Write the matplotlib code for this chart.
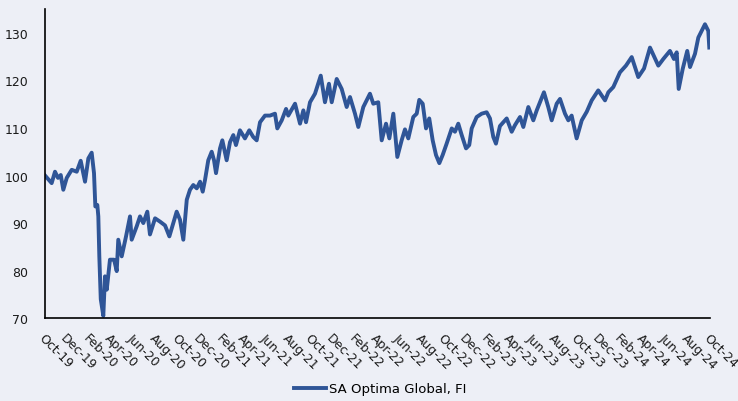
import numpy as np
import matplotlib
matplotlib.use('Agg')
import matplotlib.pyplot as plt

# months since Oct-19
months = [0.00, 0.60, 0.90, 1.17, 1.42, 1.65, 1.96, 2.41, 2.86, 3.22, 3.61, 3.91, 4.21, 4.42,
          4.54, 4.72, 4.81, 4.90, 5.03, 5.26, 5.41, 5.57, 5.86, 6.23, 6.47, 6.61, 6.92, 7.31,
          7.67, 7.82, 8.27, 8.57, 8.87, 9.23, 9.47, 9.93, 10.38, 10.83, 11.22, 11.88, 12.18,
          12.48, 12.79, 13.08, 13.38, 13.69, 13.99, 14.23, 14.44, 14.73, 15.04, 15.25, 15.43,
          15.79, 16.00, 16.39, 16.69, 16.99, 17.23, 17.59, 18.04, 18.43, 18.79, 19.10, 19.40,
          19.85, 20.30, 20.75, 20.96, 21.36, 21.75, 21.95, 22.56, 23.01, 23.31, 23.55, 23.91,
          24.36, 24.88, 25.26, 25.62, 25.87, 26.32, 26.77, 27.22, 27.52, 27.97, 28.27, 28.72,
          29.32, 29.62, 30.07, 30.38, 30.77, 31.07, 31.43, 31.79, 32.18, 32.48, 32.78, 33.23,
          33.54, 33.77, 34.08, 34.38, 34.67, 34.98, 35.28, 35.58, 35.88, 36.24, 36.70, 36.99,
          37.29, 37.60, 37.99, 38.28, 38.50, 38.95, 39.40, 39.85, 40.15, 40.45, 40.69, 41.05,
          41.66, 42.11, 42.41, 42.86, 43.16, 43.61, 44.06, 44.37, 45.02, 45.41, 45.72, 46.17,
          46.47, 46.92, 47.22, 47.52, 47.97, 48.43, 48.88, 49.33, 49.92, 50.53, 50.83, 51.28,
          51.88, 52.42, 52.94, 53.53, 54.05, 54.59, 55.34, 55.79, 56.39, 56.75, 57.00, 57.18,
          57.54, 57.95, 58.20, 58.65, 58.95, 59.55, 59.85, 59.94]

values = [100.0, 98.4, 100.8, 99.5, 100.1, 97.0, 99.5, 101.2, 100.8, 103.1, 98.7, 103.6, 104.8, 100.5,
          93.5, 93.8, 91.4, 83.0, 74.0, 70.5, 78.8, 76.0, 82.3, 82.3, 79.9, 86.5, 83.0, 87.2,
          91.4, 86.5, 89.3, 91.4, 90.0, 92.4, 87.6, 91.0, 90.3, 89.5, 87.2, 92.4, 90.7,
          86.5, 94.9, 97.0, 98.0, 97.3, 98.7, 96.6, 99.1, 103.2, 105.0, 103.2, 100.5,
          105.7, 107.4, 103.2, 107.0, 108.5, 106.4, 109.5, 107.8, 109.5, 108.1, 107.4, 111.2,
          112.6, 112.6, 113.0, 109.9, 111.6, 114.0, 112.6, 115.1, 110.9, 113.7, 111.2, 115.4,
          117.2, 121.0, 115.4, 119.3, 115.4, 120.3, 118.2, 114.4, 116.5, 113.0, 110.2, 114.4,
          117.2, 115.1, 115.4, 107.4, 110.9, 107.8, 113.0, 103.9, 107.4, 109.7, 107.8, 112.3,
          113.0, 115.9, 115.1, 109.9, 112.0, 107.4, 104.3, 102.6, 104.3, 106.7, 109.9, 109.2,
          110.9, 108.5, 105.7, 106.4, 109.9, 112.3, 113.0, 113.3, 112.0, 108.1, 106.7, 110.4,
          112.0, 109.2, 110.6, 112.3, 110.2, 114.4, 111.6, 113.7, 117.5, 114.4, 111.6, 115.1,
          116.1, 113.0, 111.6, 112.6, 107.8, 111.6, 113.4, 115.8, 117.9, 115.8, 117.5, 118.6,
          121.7, 123.1, 124.9, 120.7, 122.5, 126.9, 123.1, 124.5, 126.2, 124.5, 125.9, 118.2,
          122.4, 126.2, 122.8, 125.6, 129.0, 131.8, 130.4, 126.9]

tick_labels = ['Oct-19', 'Dec-19', 'Feb-20', 'Apr-20', 'Jun-20', 'Aug-20', 'Oct-20', 'Dec-20',
               'Feb-21', 'Apr-21', 'Jun-21', 'Aug-21', 'Oct-21', 'Dec-21', 'Feb-22', 'Apr-22',
               'Jun-22', 'Aug-22', 'Oct-22', 'Dec-22', 'Feb-23', 'Apr-23', 'Jun-23', 'Aug-23',
               'Oct-23', 'Dec-23', 'Feb-24', 'Apr-24', 'Jun-24', 'Aug-24', 'Oct-24']

bg = '#EDEFF6'
line_color = '#2F5597'
plt.rcParams['font.family'] = ['DejaVu Sans']

fig = plt.figure(figsize=(7.38, 4.02), dpi=100, facecolor=bg)
ax = fig.add_axes([0.061, 0.206, 0.901, 0.769], facecolor=bg)

ax.plot(months, values, color=line_color, linewidth=2.8, solid_joinstyle='round',
        label='SA Optima Global, FI')

ax.set_xlim(0, 60)
ax.set_ylim(70, 135)
ax.set_yticks([70, 80, 90, 100, 110, 120, 130])
ax.set_xticks(np.arange(0, 61, 2))
ax.set_xticklabels(tick_labels, rotation=-45, ha='left', va='top', rotation_mode='anchor')
ax.tick_params(axis='both', length=0, labelsize=9, colors='#1a1a1a')
ax.tick_params(axis='y', pad=12)
ax.tick_params(axis='x', pad=9)

for s in ['top', 'right']:
    ax.spines[s].set_visible(False)
for s in ['left', 'bottom']:
    ax.spines[s].set_color('black')
    ax.spines[s].set_linewidth(1.2)

fig.legend(loc='lower center', bbox_to_anchor=(0.515, -0.015), frameon=False,
           fontsize=9.5, handlelength=2.4, handletextpad=0.2)

fig.savefig('out.png', dpi=100, facecolor=bg)
